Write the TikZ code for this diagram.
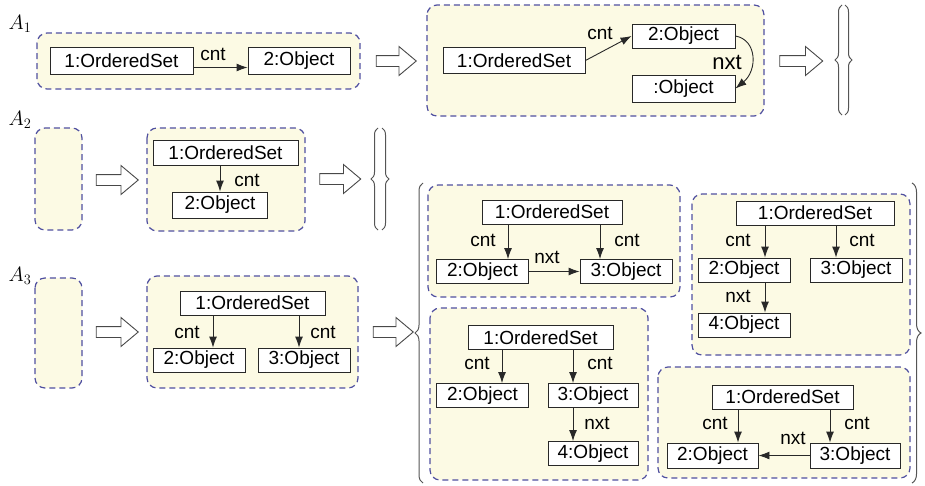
\documentclass[tikz,border=0pt]{standalone}
\usepackage{fontspec}
\setmainfont{Liberation Sans}
\usetikzlibrary{arrows.meta,shapes.arrows,decorations.pathreplacing,calc}
\definecolor{frameblue}{RGB}{80,80,160}
\definecolor{frameyellow}{RGB}{252,250,228}
\definecolor{boxgray}{RGB}{40,40,40}
\definecolor{bracegray}{RGB}{85,85,85}
\newcommand\objfont{\fontsize{19}{22}\selectfont}
\newcommand\bigfont{\fontsize{22}{25}\selectfont}
\newcommand\labfont{\fontsize{20}{24}\selectfont}
\tikzset{
  frame/.style={draw=frameblue, dash pattern=on 6pt off 4pt, line width=1.2pt, fill=frameyellow, rounded corners=10pt},
  obj/.style={draw=boxgray, fill=white, line width=0.9pt, inner sep=0pt, minimum height=24pt, font=\objfont},
  lbl/.style={inner sep=0pt, font=\objfont},
  arr/.style={draw=boxgray, line width=0.9pt, -{Latex[length=11pt,width=8pt]}},
  hollow/.style={shape=single arrow, draw=boxgray!85, fill=white, line width=0.9pt, inner sep=5pt,
    single arrow head extend=9pt, single arrow tip angle=80, minimum height=#1},
  setbrace/.style={decorate, decoration={brace, amplitude=#1}, draw=bracegray, line width=1pt}
}
\begin{document}
\begin{tikzpicture}[x=1pt,y=-1pt]
\useasboundingbox (0,0) rectangle (925,485);
% ---------- frames
\draw[frame] (37,33) rectangle (360,89);
\draw[frame] (427,5) rectangle (764,116);
\draw[frame] (35,128) rectangle (82,230);
\draw[frame] (147,128) rectangle (305,231);
\draw[frame] (35,278) rectangle (82,388);
\draw[frame] (147,276) rectangle (358,388);
\draw[frame] (428,185) rectangle (680,297);
\draw[frame] (692,194) rectangle (910,355);
\draw[frame] (430,308) rectangle (648,480);
\draw[frame] (658,367) rectangle (910,478);
% ---------- row labels
\node[font=\labfont, inner sep=0pt] (A1) at (20,24) {$A_1$};
\node[font=\labfont, inner sep=0pt] (A2) at (20,120) {$A_2$};
\node[font=\labfont, inner sep=0pt] (A3) at (20,276) {$A_3$};
% ---------- hollow arrows
\node[hollow=40pt] (h1) at (393,61) {};
\node[hollow=43pt] (h2) at (798,61) {};
\node[hollow=42pt] (h3) at (114,180) {};
\node[hollow=41pt] (h4) at (337,179) {};
\node[hollow=42pt] (h5) at (114,332) {};
\node[hollow=40pt] (h6) at (390,332) {};
% ---------- braces
\draw[setbrace=7pt] (842,115) -- (842,5);
\draw[setbrace=7pt] (845,5) -- (845,115);
\draw[setbrace=7pt] (378,230) -- (378,128);
\draw[setbrace=7pt] (382,128) -- (382,230);
\draw[setbrace=8pt] (423,483) -- (423,183);
\draw[setbrace=9pt] (912,183) -- (912,483);
% ---------- A1, first graph
\node[obj, minimum width=143pt, minimum height=27pt] (a1s) at (121.5,60.5) {1:OrderedSet};
\node[obj, minimum width=102pt, minimum height=27pt] (a1o) at (299,60.5) {2:Object};
\node[lbl] (a1c) at (213,54) {cnt};
\draw[arr] ($(a1s.east)+(0,7)$) -- ($(a1o.west)+(0,7)$);
% ---------- A1, second graph
\node[obj, minimum width=142pt, minimum height=26pt] (b1) at (514,60.5) {1:OrderedSet};
\node[obj, minimum width=103pt, minimum height=24pt] (b2) at (683.5,36) {2:Object};
\node[obj, minimum width=103pt, minimum height=27pt] (b3) at (683.5,88.5) {:Object};
\node[lbl] (bc) at (600,33) {cnt};
\node[lbl, font=\bigfont] (bn) at (727,62) {nxt};
\draw[arr] (b1.east) -- (b2.west);
\draw[arr] (b2.east) .. controls +(22,4) and +(22,-18) .. (b3.east);
% ---------- A2
\node[obj, minimum width=145pt, minimum height=25pt] (c1) at (225.5,152.5) {1:OrderedSet};
\node[obj, minimum width=95pt, minimum height=26pt] (c2) at (220,205) {2:Object};
\node[lbl] (cc) at (247,180) {cnt};
\draw[arr] (c1.south -| c2.north) -- (c2.north);
% ---------- A3
\coordinate (xd2) at (213,0);
\coordinate (xd3) at (299,0);
\node[obj, minimum width=145pt] (d1) at (252.5,303) {1:OrderedSet};
\node[obj, minimum width=92pt] (d2) at (199,360) {2:Object};
\node[obj, minimum width=92pt] (d3) at (304,360) {3:Object};
\node[lbl] (dc1) at (187,332) {cnt};
\node[lbl] (dc2) at (323,332) {cnt};
\draw[arr] (d1.south -| xd2) -- (d2.north -| xd2);
\draw[arr] (d1.south -| xd3) -- (d3.north -| xd3);
% ---------- panel 1
\coordinate (xp1a) at (508,0);
\coordinate (xp1b) at (600,0);
\node[obj, minimum width=140pt] (p1s) at (552,212) {1:OrderedSet};
\node[obj, minimum width=92pt] (p1a) at (482.5,271.5) {2:Object};
\node[obj, minimum width=92pt] (p1b) at (626,271.5) {3:Object};
\node[lbl] (p1c1) at (483,240) {cnt};
\node[lbl] (p1c2) at (627,240) {cnt};
\node[lbl] (p1n) at (547,257) {nxt};
\draw[arr] (p1s.south -| xp1a) -- (p1a.north -| xp1a);
\draw[arr] (p1s.south -| xp1b) -- (p1b.north -| xp1b);
\draw[arr] (p1a.east) -- (p1b.west);
% ---------- panel 2
\coordinate (xp2a) at (765,0);
\coordinate (xp2b) at (836,0);
\node[obj, minimum width=158pt] (p2s) at (815,213) {1:OrderedSet};
\node[obj, minimum width=92pt] (p2a) at (744,270) {2:Object};
\node[obj, minimum width=92pt] (p2b) at (856,270) {3:Object};
\node[obj, minimum width=92pt] (p2c) at (744,325) {4:Object};
\node[lbl] (p2c1) at (738,240) {cnt};
\node[lbl] (p2c2) at (862,240) {cnt};
\node[lbl] (p2n) at (738,296) {nxt};
\draw[arr] (p2s.south -| xp2a) -- (p2a.north -| xp2a);
\draw[arr] (p2s.south -| xp2b) -- (p2b.north -| xp2b);
\draw[arr] (p2a.south -| xp2a) -- (p2c.north -| xp2a);
% ---------- panel 3
\coordinate (xp3a) at (502,0);
\coordinate (xp3b) at (573,0);
\node[obj, minimum width=145pt] (p3s) at (540.5,337.5) {1:OrderedSet};
\node[obj, minimum width=92pt] (p3a) at (482.5,395.5) {2:Object};
\node[obj, minimum width=90pt] (p3b) at (593,395.5) {3:Object};
\node[obj, minimum width=90pt] (p3c) at (593,453.5) {4:Object};
\node[lbl] (p3c1) at (477,363) {cnt};
\node[lbl] (p3c2) at (600,363) {cnt};
\node[lbl] (p3n) at (597,423) {nxt};
\draw[arr] (p3s.south -| xp3a) -- (p3a.north -| xp3a);
\draw[arr] (p3s.south -| xp3b) -- (p3b.north -| xp3b);
\draw[arr] (p3b.south -| xp3b) -- (p3c.north -| xp3b);
% ---------- panel 4
\coordinate (xp4a) at (738,0);
\coordinate (xp4b) at (830,0);
\node[obj, minimum width=141pt] (p4s) at (782.5,397) {1:OrderedSet};
\node[obj, minimum width=91pt, minimum height=25pt] (p4a) at (712.5,455.5) {2:Object};
\node[obj, minimum width=90pt, minimum height=25pt] (p4b) at (855,455.5) {3:Object};
\node[lbl] (p4c1) at (715,423) {cnt};
\node[lbl] (p4c2) at (857,423) {cnt};
\node[lbl] (p4n) at (793,438) {nxt};
\draw[arr] (p4s.south -| xp4a) -- (p4a.north -| xp4a);
\draw[arr] (p4s.south -| xp4b) -- (p4b.north -| xp4b);
\draw[arr] (p4b.west) -- (p4a.east);
\end{tikzpicture}
\end{document}
